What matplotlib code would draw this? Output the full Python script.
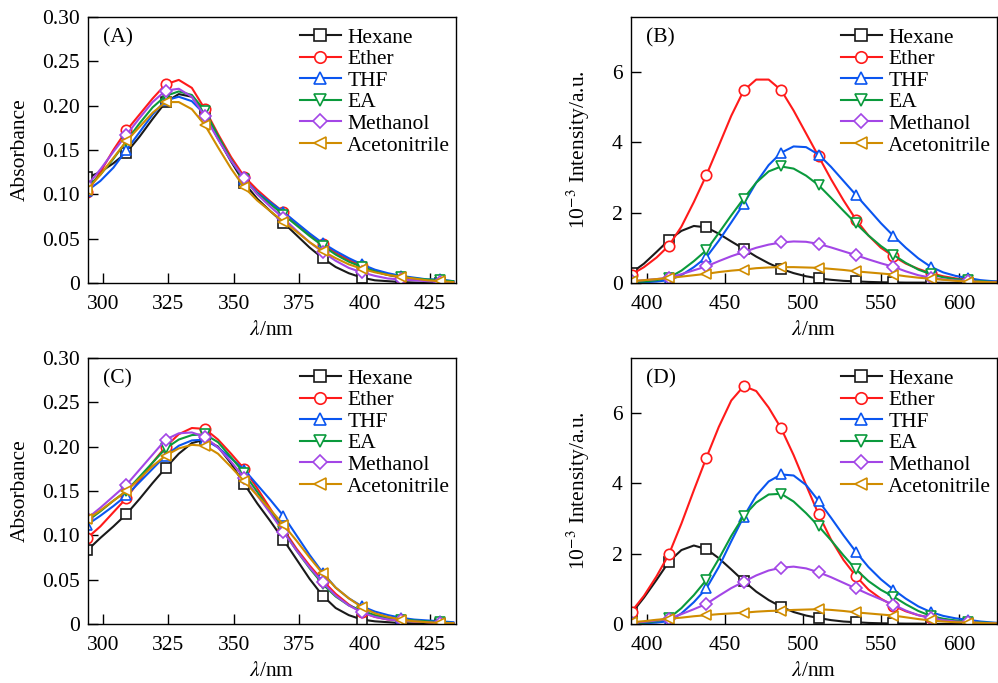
import numpy as np
import matplotlib
matplotlib.use("Agg")
import matplotlib.pyplot as plt
from matplotlib.ticker import FuncFormatter

plt.rcParams['font.family'] = ['Liberation Serif', 'DejaVu Serif']
plt.rcParams['mathtext.fontset'] = 'stix'

solvents = ["Hexane", "Ether", "THF", "EA", "Methanol", "Acetonitrile"]
colors = ["#1a1a1a", "#ff1a1a", "#0a55f0", "#0a9a3c", "#a346e6", "#d08c00"]
markers = ["s", "o", "^", "v", "D", "<"]

# absorption wavelengths (nm), markers on every 3rd point
wl_abs = [294, 299, 304, 309, 314, 319, 324, 329, 334, 339, 344, 349, 354, 359, 364,
          369, 374, 379, 384, 389, 394, 399, 404, 409, 414, 419, 424, 429, 434]
# emission wavelengths (nm)
wl_em = [390, 398, 406, 414, 422, 430, 438, 446, 454, 462, 470, 478, 486, 494, 502, 510,
         518, 526, 534, 542, 550, 558, 566, 574, 582, 590, 598, 606, 614, 622, 630]

# (A) absorbance
abs_a_hexane = [0.119, 0.125, 0.135, 0.147, 0.165, 0.185, 0.204, 0.213, 0.210, 0.190, 0.163, 0.137, 0.113, 0.095, 0.081,
                0.068, 0.054, 0.040, 0.028, 0.018, 0.011, 0.006, 0.003, 0.002, 0.001, 0.0005, 0.0, 0.0, 0.0]
abs_a_ether = [0.103, 0.125, 0.150, 0.172, 0.190, 0.208, 0.224, 0.229, 0.220, 0.196, 0.168, 0.142, 0.120, 0.105, 0.092,
               0.080, 0.067, 0.055, 0.044, 0.034, 0.026, 0.019, 0.013, 0.009, 0.006, 0.004, 0.003, 0.002, 0.001]
abs_a_thf = [0.104, 0.115, 0.130, 0.150, 0.170, 0.190, 0.206, 0.210, 0.205, 0.190, 0.163, 0.138, 0.117, 0.102, 0.091,
             0.080, 0.068, 0.056, 0.045, 0.036, 0.028, 0.021, 0.015, 0.011, 0.008, 0.006, 0.004, 0.004, 0.002]
abs_a_ea = [0.108, 0.122, 0.140, 0.160, 0.180, 0.198, 0.211, 0.216, 0.212, 0.194, 0.166, 0.139, 0.117, 0.101, 0.089,
            0.077, 0.065, 0.053, 0.042, 0.032, 0.024, 0.018, 0.013, 0.009, 0.007, 0.005, 0.004, 0.003, 0.002]
abs_a_meoh = [0.110, 0.128, 0.148, 0.167, 0.186, 0.204, 0.217, 0.219, 0.210, 0.188, 0.162, 0.138, 0.118, 0.100, 0.086,
              0.073, 0.059, 0.046, 0.035, 0.025, 0.017, 0.012, 0.008, 0.005, 0.004, 0.003, 0.002, 0.001, 0.001]
abs_a_mecn = [0.105, 0.122, 0.141, 0.160, 0.176, 0.192, 0.204, 0.204, 0.196, 0.178, 0.153, 0.129, 0.108, 0.093, 0.081,
              0.069, 0.058, 0.046, 0.036, 0.028, 0.021, 0.016, 0.012, 0.009, 0.007, 0.005, 0.003, 0.002, 0.001]

# (C) absorbance
abs_c_hexane = [0.083, 0.097, 0.110, 0.124, 0.141, 0.159, 0.176, 0.192, 0.204, 0.208, 0.200, 0.181, 0.158, 0.136, 0.116,
                0.095, 0.073, 0.051, 0.032, 0.018, 0.010, 0.005, 0.003, 0.002, 0.001, 0.0005, 0.0, 0.0, 0.0]
abs_c_ether = [0.097, 0.110, 0.126, 0.142, 0.162, 0.182, 0.200, 0.214, 0.221, 0.220, 0.208, 0.192, 0.175, 0.153, 0.130,
               0.107, 0.085, 0.066, 0.049, 0.034, 0.022, 0.013, 0.008, 0.005, 0.004, 0.003, 0.002, 0.001, 0.001]
abs_c_thf = [0.112, 0.122, 0.133, 0.145, 0.160, 0.175, 0.190, 0.201, 0.207, 0.208, 0.199, 0.187, 0.174, 0.157, 0.140,
             0.122, 0.100, 0.078, 0.058, 0.041, 0.029, 0.020, 0.014, 0.010, 0.007, 0.005, 0.004, 0.003, 0.002]
abs_c_ea = [0.116, 0.127, 0.139, 0.150, 0.166, 0.182, 0.198, 0.208, 0.213, 0.214, 0.205, 0.188, 0.170, 0.149, 0.127,
            0.105, 0.083, 0.063, 0.045, 0.031, 0.021, 0.015, 0.010, 0.007, 0.005, 0.004, 0.003, 0.002, 0.001]
abs_c_meoh = [0.119, 0.131, 0.144, 0.157, 0.174, 0.191, 0.208, 0.215, 0.216, 0.211, 0.199, 0.183, 0.165, 0.145, 0.125,
              0.104, 0.083, 0.064, 0.047, 0.032, 0.021, 0.013, 0.008, 0.005, 0.004, 0.003, 0.002, 0.001, 0.001]
abs_c_mecn = [0.118, 0.128, 0.139, 0.150, 0.164, 0.178, 0.190, 0.198, 0.202, 0.201, 0.192, 0.177, 0.161, 0.145, 0.129,
              0.112, 0.094, 0.075, 0.057, 0.041, 0.029, 0.019, 0.012, 0.008, 0.005, 0.003, 0.002, 0.001, 0.001]

# (B) emission, 10^-3 intensity
em_b_hexane = [0.29, 0.55, 0.88, 1.22, 1.48, 1.62, 1.58, 1.40, 1.18, 0.97, 0.75, 0.56, 0.40, 0.28, 0.19, 0.13,
               0.09, 0.06, 0.045, 0.03, 0.02, 0.015, 0.01, 0.01, 0.01, 0.005, 0.0, 0.0, 0.0, 0.0, 0.0]
em_b_ether = [0.24, 0.45, 0.72, 1.06, 1.60, 2.30, 3.06, 3.90, 4.75, 5.47, 5.78, 5.78, 5.48, 4.90, 4.25, 3.60,
              2.95, 2.35, 1.80, 1.35, 1.00, 0.76, 0.55, 0.40, 0.28, 0.19, 0.13, 0.09, 0.06, 0.04, 0.03]
em_b_thf = [0.01, 0.02, 0.04, 0.08, 0.22, 0.45, 0.73, 1.20, 1.72, 2.25, 2.85, 3.35, 3.70, 3.88, 3.86, 3.65,
            3.30, 2.90, 2.50, 2.10, 1.70, 1.34, 1.00, 0.70, 0.46, 0.30, 0.20, 0.14, 0.08, 0.05, 0.03]
em_b_ea = [0.02, 0.04, 0.08, 0.15, 0.35, 0.62, 0.93, 1.42, 1.92, 2.40, 2.85, 3.17, 3.31, 3.25, 3.05, 2.78,
           2.42, 2.05, 1.69, 1.35, 1.05, 0.80, 0.57, 0.38, 0.25, 0.16, 0.11, 0.08, 0.05, 0.03, 0.02]
em_b_meoh = [0.05, 0.08, 0.11, 0.15, 0.25, 0.36, 0.47, 0.62, 0.76, 0.88, 1.00, 1.09, 1.15, 1.18, 1.17, 1.11,
             1.01, 0.90, 0.79, 0.67, 0.56, 0.46, 0.33, 0.22, 0.15, 0.10, 0.07, 0.05, 0.03, 0.02, 0.01]
em_b_mecn = [0.05, 0.08, 0.11, 0.14, 0.18, 0.22, 0.26, 0.31, 0.35, 0.38, 0.42, 0.44, 0.45, 0.45, 0.44, 0.43,
             0.40, 0.37, 0.33, 0.30, 0.27, 0.24, 0.19, 0.15, 0.12, 0.09, 0.06, 0.04, 0.03, 0.02, 0.01]

# (D) emission, 10^-3 intensity
em_d_hexane = [0.30, 0.75, 1.25, 1.77, 2.10, 2.23, 2.13, 1.87, 1.55, 1.22, 0.92, 0.68, 0.49, 0.34, 0.24, 0.17,
               0.11, 0.07, 0.05, 0.03, 0.02, 0.015, 0.01, 0.01, 0.005, 0.0, 0.0, 0.0, 0.0, 0.0, 0.0]
em_d_ether = [0.35, 0.80, 1.35, 1.98, 2.85, 3.80, 4.72, 5.60, 6.35, 6.76, 6.62, 6.15, 5.56, 4.80, 3.95, 3.12,
              2.40, 1.82, 1.36, 0.98, 0.72, 0.52, 0.36, 0.25, 0.18, 0.12, 0.08, 0.05, 0.03, 0.02, 0.01]
em_d_thf = [0.01, 0.02, 0.04, 0.08, 0.30, 0.62, 1.01, 1.62, 2.35, 3.05, 3.65, 4.05, 4.25, 4.22, 3.95, 3.50,
            3.02, 2.52, 2.05, 1.62, 1.27, 0.98, 0.72, 0.50, 0.34, 0.23, 0.16, 0.12, 0.07, 0.04, 0.02]
em_d_ea = [0.02, 0.04, 0.08, 0.16, 0.45, 0.82, 1.25, 1.85, 2.50, 3.07, 3.45, 3.68, 3.70, 3.48, 3.15, 2.78,
           2.38, 1.95, 1.55, 1.22, 0.97, 0.78, 0.56, 0.37, 0.23, 0.15, 0.10, 0.07, 0.04, 0.03, 0.02]
em_d_meoh = [0.03, 0.06, 0.10, 0.15, 0.28, 0.42, 0.57, 0.80, 1.02, 1.20, 1.38, 1.52, 1.60, 1.63, 1.58, 1.47,
             1.33, 1.17, 1.01, 0.85, 0.70, 0.55, 0.38, 0.25, 0.17, 0.11, 0.07, 0.05, 0.03, 0.02, 0.01]
em_d_mecn = [0.05, 0.08, 0.12, 0.15, 0.18, 0.22, 0.25, 0.28, 0.30, 0.32, 0.35, 0.37, 0.38, 0.40, 0.41, 0.42,
             0.40, 0.37, 0.33, 0.30, 0.27, 0.24, 0.19, 0.14, 0.10, 0.07, 0.05, 0.04, 0.03, 0.02, 0.01]

panels = [
    ("(A)", wl_abs, [abs_a_hexane, abs_a_ether, abs_a_thf, abs_a_ea, abs_a_meoh, abs_a_mecn]),
    ("(B)", wl_em, [em_b_hexane, em_b_ether, em_b_thf, em_b_ea, em_b_meoh, em_b_mecn]),
    ("(C)", wl_abs, [abs_c_hexane, abs_c_ether, abs_c_thf, abs_c_ea, abs_c_meoh, abs_c_mecn]),
    ("(D)", wl_em, [em_d_hexane, em_d_ether, em_d_thf, em_d_ea, em_d_meoh, em_d_mecn]),
]

rects = [
    [0.0882, 0.5857, 0.3687, 0.3895],
    [0.6323, 0.5857, 0.3667, 0.3895],
    [0.0882, 0.0864, 0.3687, 0.3895],
    [0.6323, 0.0864, 0.3667, 0.3895],
]

fs = 15.5
fig = plt.figure(figsize=(9.98, 6.83), dpi=100)

for (tag, wl, series), rect in zip(panels, rects):
    ax = fig.add_axes(rect)
    for name, ys, c, m in zip(solvents, series, colors, markers):
        ax.plot(wl, ys, color=c, lw=1.5, marker=m, markevery=3, ms=7.5 if m != "D" else 6.5,
                mfc="white", mec=c, mew=1.2, label=name)
    absorb = tag in ("(A)", "(C)")
    if absorb:
        ax.set_xlim(294.3, 435)
        ax.set_ylim(0, 0.30)
        ax.set_xticks([300, 325, 350, 375, 400, 425])
        ax.set_yticks([0, 0.05, 0.10, 0.15, 0.20, 0.25, 0.30])
        ax.yaxis.set_major_formatter(FuncFormatter(lambda v, p: "0" if v == 0 else f"{v:.2f}"))
        ax.set_ylabel("Absorbance", fontsize=fs, labelpad=9)
    else:
        ax.set_xlim(389.7, 624.5)
        ax.set_ylim(0, 7.56)
        ax.set_xticks([400, 450, 500, 550, 600])
        ax.set_yticks([0, 2, 4, 6])
        ax.set_ylabel(r"10$^{-3}$ Intensity/a.u.", fontsize=fs, labelpad=14)
    ax.set_xlabel(r"$\lambda$/nm", fontsize=fs, labelpad=5)
    ax.tick_params(axis="x", direction="in", length=7, width=1, labelsize=fs, top=False, pad=9)
    ax.tick_params(axis="y", direction="in", length=7, width=1, labelsize=fs, right=False, pad=6)
    for s in ax.spines.values():
        s.set_linewidth(1.0)
    ax.text(0.04, 0.922, tag, transform=ax.transAxes, fontsize=fs, ha="left", va="center")
    ax.legend(loc="upper right", bbox_to_anchor=(0.99, 0.968), frameon=False, fontsize=fs,
              handlelength=1.9, handletextpad=0.3, labelspacing=0.07, borderaxespad=0.0,
              borderpad=0.1, markerscale=1.1)

fig.savefig("out.png", dpi=100)
